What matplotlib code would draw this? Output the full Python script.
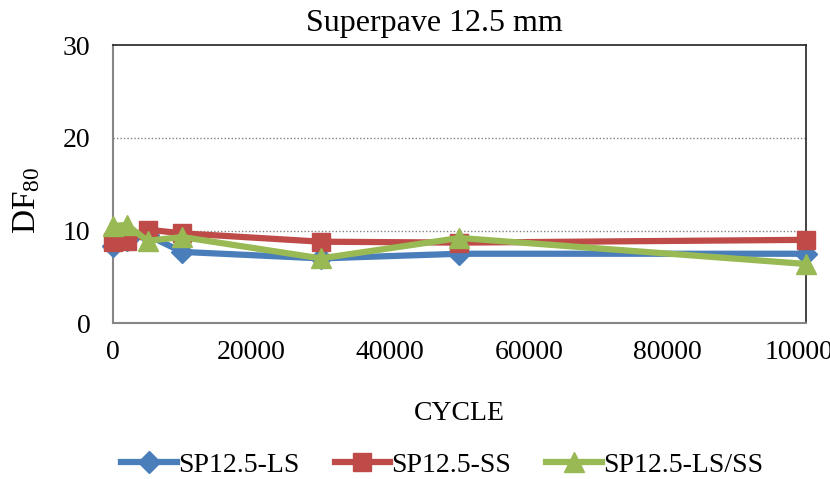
import matplotlib
matplotlib.use("Agg")
import matplotlib.pyplot as plt

# Cycle counts and DF80 values for each Superpave 12.5 mm mix
cycles = [0, 2000, 5000, 10000, 30000, 50000, 100000]
df_ls = [8.3, 9.0, 9.5, 7.7, 7.0, 7.5, 7.5]
df_ss = [8.8, 8.9, 10.1, 9.7, 8.8, 8.7, 9.0]
df_ls_ss = [10.5, 10.6, 8.9, 9.3, 7.0, 9.2, 6.4]

series_names = ["SP12.5-LS", "SP12.5-SS", "SP12.5-LS/SS"]
x_ticks = [0, 20000, 40000, 60000, 80000, 100000]
y_ticks = [0, 10, 20, 30]

plt.rcParams["font.family"] = ["Liberation Serif", "DejaVu Serif"]
plt.rcParams["mathtext.fontset"] = "custom"
plt.rcParams["mathtext.rm"] = "Liberation Serif"
plt.rcParams["mathtext.it"] = "Liberation Serif:italic"

fig = plt.figure(figsize=(8.30, 4.79), dpi=100)
ax = fig.add_axes([0.136, 0.325, 0.835, 0.581])

styles = [
    (df_ls, "#4A7EBB", "D", 11),
    (df_ss, "#BE4B48", "s", 13),
    (df_ls_ss, "#98B954", "^", 15),
]
for (vals, color, marker, ms), name in zip(styles, series_names):
    ax.plot(cycles, vals, color=color, lw=4.5, marker=marker, ms=ms,
            mfc=color, mec=color, label=name, clip_on=False, zorder=3)

ax.set_xlim(0, 100000)
ax.set_ylim(0, 30)
ax.set_xticks(x_ticks)
ax.set_yticks(y_ticks)
ax.set_xticklabels([str(t) for t in x_ticks])
ax.tick_params(axis="both", length=0, labelsize=20)
ax.tick_params(axis="x", pad=12)
ax.tick_params(axis="y", pad=16)

for y in [10, 20]:
    ax.axhline(y, color="#808080", lw=1.0, ls=(0, (1, 1.5)), zorder=1)

ax.spines["left"].set_color("#868686")
ax.spines["bottom"].set_color("#868686")
ax.spines["left"].set_linewidth(1.5)
ax.spines["bottom"].set_linewidth(1.5)
ax.spines["top"].set_color("#222222")
ax.spines["right"].set_color("#222222")
ax.spines["top"].set_linewidth(1.2)
ax.spines["right"].set_linewidth(1.2)

fig.text(434 / 830, 1 - 24 / 479, "Superpave 12.5 mm", fontsize=23,
         ha="center", va="center")
ax.set_xlabel("CYCLE", fontsize=20, labelpad=26)
fig.text(0.032, 1 - 200 / 479, r"$\mathrm{DF}_{80}$", fontsize=24,
         rotation=90, ha="center", va="center")

leg = fig.legend(loc="lower center", bbox_to_anchor=(0.533, -0.05), ncol=3,
                 frameon=False, fontsize=20, handlelength=2.0,
                 columnspacing=1.26, handletextpad=0.05)

fig.savefig("out.png", dpi=100)
